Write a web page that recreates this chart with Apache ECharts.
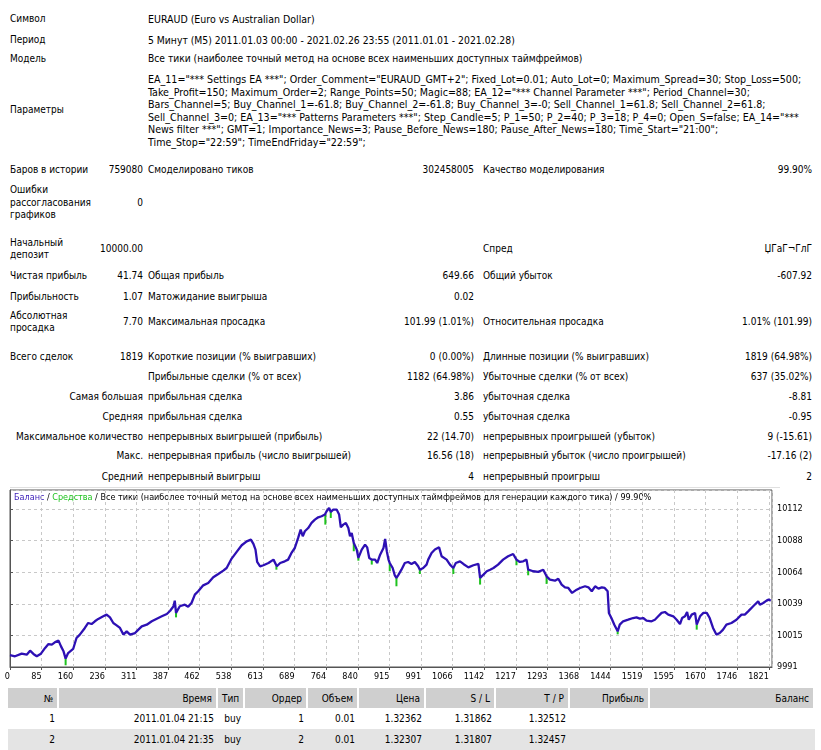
<!DOCTYPE html>
<html><head><meta charset="utf-8">
<script src="https://cdn.jsdelivr.net/npm/echarts@6/dist/echarts.min.js"></script>
<style>
body{margin:0;background:#fff;width:821px;height:750px;overflow:hidden;position:relative;font-family:"DejaVu Sans Condensed","DejaVu Sans",sans-serif;font-stretch:condensed;font-size:10px;color:#000}
.t{position:absolute;white-space:nowrap;line-height:12px;height:12px}
.cell{position:absolute;box-sizing:border-box;padding:0 4px;text-align:right;white-space:nowrap;line-height:21px;height:21px}
#chart{position:absolute;left:0;top:485px;width:821px;height:200px}
</style></head><body>
<div id="chart"></div>
<script>
// ---- chart data ----
const xTickLabels = ['0','85','160','236','311','387','462','538','613','689','764','840','915','991','1066','1142','1217','1293','1368','1444','1519','1595','1670','1746','1821'];
const balance = [
[0,10000],[12,9999.2],[28,10001.2],[40,10000.4],[48,10003.5],[56,10001.0],[64,9999.2],[68,10000.4],[74,10001.2],[84,10005.6],[92,10008.6],[100,10008.1],[108,10010.1],[116,10011.2],[122,10006.8],[128,10003.0],[133,9997.4],[139,10001.7],[151,10004.8],[159,10013.2],[167,10015.8],[179,10020.9],[187,10024.7],[195,10023.9],[203,10026.0],[211,10027.8],[223,10029.8],[231,10031.1],[239,10029.0],[247,10024.7],[255,10022.9],[263,10020.9],[271,10015.8],[279,10018.3],[287,10015.8],[299,10017.0],[307,10019.6],[315,10022.1],[327,10023.4],[339,10026.0],[351,10028.0],[363,10029.8],[375,10031.6],[383,10034.1],[391,10037.5],[394,10041.8],[397,10032.4],[406,10037.5],[418,10038.7],[426,10037.2],[434,10040.0],[442,10046.4],[450,10049.0],[462,10053.5],[474,10055.3],[486,10059.7],[498,10062.2],[510,10064.8],[518,10066.8],[530,10074.0],[542,10079.1],[554,10084.2],[566,10087.2],[576,10088.5],[582,10085.2],[587,10080.9],[591,10071.4],[598,10068.1],
[606,10068.9],[618,10070.6],[630,10073.2],[634,10074.0],[638,10068.1],[646,10070.6],[657,10071.9],[665,10073.2],[673,10078.3],[681,10082.1],[689,10089.8],[695,10096.2],[700,10091.1],[705,10094.9],[713,10097.4],[721,10101.3],[729,10103.8],[737,10105.6],[745,10106.4],[753,10107.7],[757,10110.2],[763,10112.8],[767,10109.7],[773,10111.5],[781,10111.5],[787,10107.7],[791,10098.0],[797,10100.0],[803,10101.3],[809,10097.4],[813,10091.1],[817,10093.6],[822,10086.0],[829,10080.9],[833,10074.5],[841,10080.9],[849,10084.7],[854,10082.6],[859,10074.5],[865,10073.2],[873,10073.2],[878,10070.6],[885,10077.0],[893,10082.1],[897,10089.0],[901,10079.6],[905,10073.2],[908,10070.6],[915,10066.8],[920,10061.2],[924,10059.2],[928,10061.2],[936,10065.5],[944,10070.6],[952,10071.4],[960,10069.9],[968,10071.4],[976,10068.1],[980,10065.5],[988,10066.8],[996,10069.4],[1000,10073.2],[1008,10078.3],[1016,10080.9],[1026,10082.6],[1032,10075.8],[1044,10073.2],[1052,10069.4],[1060,10066.8],[1066,10070.6],[1076,10071.9],[1084,10069.9],[1096,10067.3],[1108,10068.9],[1120,10069.9],[1124,10059.2],[1132,10061.7],[1140,10064.3],[1148,10065.5],[1156,10066.8],[1167,10069.4],[1179,10073.2],[1191,10075.8],[1203,10077.5],[1207,10078.3],[1211,10073.2],
[1219,10071.4],[1227,10071.9],[1235,10073.2],[1239,10065.5],[1251,10064.3],[1263,10063.8],[1275,10065.5],[1283,10060.4],[1291,10057.9],[1303,10057.1],[1311,10058.6],[1319,10054.1],[1327,10052.0],[1335,10051.5],[1344,10047.7],[1355,10050.2],[1363,10051.5],[1375,10052.8],[1383,10052.0],[1391,10049.0],[1399,10052.8],[1407,10051.0],[1415,10052.0],[1422,10051.5],[1429,10049.0],[1432,10032.4],[1438,10028.5],[1445,10023.4],[1453,10018.3],[1458,10023.4],[1466,10026.0],[1478,10027.2],[1490,10028.5],[1498,10029.0],[1506,10028.0],[1514,10028.5],[1522,10026.5],[1534,10026.0],[1542,10027.2],[1550,10029.8],[1558,10032.4],[1566,10033.1],[1574,10031.1],[1586,10029.8],[1594,10027.2],[1602,10023.9],[1607,10028.5],[1614,10029.8],[1619,10033.1],[1623,10027.2],[1630,10031.1],[1638,10032.4],[1642,10023.4],[1650,10029.8],[1658,10032.4],[1666,10032.4],[1673,10028.5],[1681,10020.9],[1689,10015.8],[1697,10017.0],[1705,10019.6],[1713,10023.4],[1725,10024.7],[1737,10027.2],[1749,10031.1],[1757,10031.1],[1765,10033.6],[1777,10037.5],[1789,10041.3],[1793,10038.7],[1801,10040.0],[1809,10041.8],[1814,10042.6],[1819,10041.7]
];
// equity dips: [trade, balance, equity low]
const equityDips = [[133,9997.4,9992.3],[397,10032.4,10029.0],[637,10068.1,10065.5],[754,10107.7,10100.0],[767,10109.7,10105.1],[822,10086.0,10079.6],[833,10074.5,10072.4],[865,10073.2,10069.4],[908,10070.6,10064.3],[924,10059.2,10052.8],[980,10065.5,10062.2],[1060,10066.8,10062.2],[1124,10059.2,10054.1],[1211,10073.2,10068.9],[1239,10065.5,10061.2],[1283,10060.4,10054.6],[1453,10018.3,10016.0],[1642,10023.4,10019.6]];
const yMin = 9991, yStep = 24.2, yMax = 10126.5;
const xStep = 75.6, xMax = 1822;

// ---- report text ----
const params = [
'EA_11="*** Settings EA ***"; Order_Comment="EURAUD_GMT+2"; Fixed_Lot=0.01; Auto_Lot=0; Maximum_Spread=30; Stop_Loss=500;',
'Take_Profit=150; Maximum_Order=2; Range_Points=50; Magic=88; EA_12="*** Channel Parameter ***"; Period_Channel=30;',
'Bars_Channel=5; Buy_Channel_1=-61.8; Buy_Channel_2=-61.8; Buy_Channel_3=-0; Sell_Channel_1=61.8; Sell_Channel_2=61.8;',
'Sell_Channel_3=0; EA_13="*** Patterns Parameters ***"; Step_Candle=5; P_1=50; P_2=40; P_3=18; P_4=0; Open_S=false; EA_14="***',
'News filter ***"; GMT=1; Importance_News=3; Pause_Before_News=180; Pause_After_News=180; Time_Start="21:00";',
'Time_Stop="22:59"; TimeEndFriday="22:59";'
];
// [x, y, text, align, fontSize]
const texts = [
[10,19,'Символ'],[148,19,'EURAUD (Euro vs Australian Dollar)',0,10.5],
[10,40,'Период'],[148,40,'5 Минут (M5) 2011.01.03 00:00 - 2021.02.26 23:55 (2011.01.01 - 2021.02.28)',0,10.3],
[10,59,'Модель'],[148,59,'Все тики (наиболее точный метод на основе всех наименьших доступных таймфреймов)',0,10.2],
[10,110,'Параметры'],
[10,170,'Баров в истории'],[143,170,'759080','r'],[148,170,'Смоделировано тиков'],[474,170,'302458005','r'],[483,170,'Качество моделирования'],[812,170,'99.90%','r'],
[10,190,'Ошибки'],[10,203,'рассогласования'],[10,215,'графиков'],[143,203,'0','r'],
[10,243,'Начальный'],[10,255,'депозит'],[143,249,'10000.00','r'],[483,249,'Спред'],[812,249,'ЏГаГ¬ГлГ','r'],
[10,276,'Чистая прибыль'],[143,276,'41.74','r'],[148,276,'Общая прибыль'],[474,276,'649.66','r'],[483,276,'Общий убыток'],[812,276,'-607.92','r'],
[10,297,'Прибыльность'],[143,297,'1.07','r'],[148,297,'Матожидание выигрыша'],[474,297,'0.02','r'],
[10,316,'Абсолютная'],[10,328,'просадка'],[143,322,'7.70','r'],[148,322,'Максимальная просадка'],[474,322,'101.99 (1.01%)','r'],[483,322,'Относительная просадка'],[812,322,'1.01% (101.99)','r'],
[10,357,'Всего сделок'],[143,357,'1819','r'],[148,357,'Короткие позиции (% выигравших)'],[474,357,'0 (0.00%)','r'],[483,357,'Длинные позиции (% выигравших)'],[812,357,'1819 (64.98%)','r'],
[148,377,'Прибыльные сделки (% от всех)'],[474,377,'1182 (64.98%)','r'],[483,377,'Убыточные сделки (% от всех)'],[812,377,'637 (35.02%)','r'],
[143,397,'Самая большая','r'],[148,397,'прибыльная сделка'],[474,397,'3.86','r'],[483,397,'убыточная сделка'],[812,397,'-8.81','r'],
[143,417,'Средняя','r'],[148,417,'прибыльная сделка'],[474,417,'0.55','r'],[483,417,'убыточная сделка'],[812,417,'-0.95','r'],
[143,437,'Максимальное количество','r'],[148,437,'непрерывных выигрышей (прибыль)'],[474,437,'22 (14.70)','r'],[483,437,'непрерывных проигрышей (убыток)'],[812,437,'9 (-15.61)','r'],
[143,456,'Макс.','r'],[148,456,'непрерывная прибыль (число выигрышей)'],[474,456,'16.56 (18)','r'],[483,456,'непрерывный убыток (число проигрышей)'],[812,456,'-17.16 (2)','r'],
[143,477,'Средний','r'],[148,477,'непрерывный выигрыш'],[474,477,'4','r'],[483,477,'непрерывный проигрыш'],[812,477,'2','r']
];
params.forEach((p,i)=>texts.push([148,79+i*12.6,p,0,10.6]));
texts.forEach(([x,y,s,a,fs])=>{
  const d=document.createElement('div');d.className='t';d.textContent=s;d.style.top=(y-6)+'px';
  if(fs)d.style.fontSize=fs+'px';
  if(a==='r')d.style.right=(821-x)+'px';else d.style.left=x+'px';
  document.body.appendChild(d);
});
const sep=document.createElement('div');sep.style.cssText='position:absolute;left:10px;top:487px;width:770px;height:1px;background:#e0e0e0';document.body.appendChild(sep);

// ---- deals table ----
const colEdges = [8,59,218,245,308,359,426,496,570,650,815];
const headers = ['№','Время','Тип','Ордер','Объем','Цена','S / L','T / P','Прибыль','Баланс'];
const rows = [
['1','2011.01.04 21:15','buy','1','0.01','1.32362','1.31862','1.32512','',''],
['2','2011.01.04 21:35','buy','2','0.01','1.32307','1.31807','1.32457','','']
];
const rowTops=[688,708,729], rowBg=['#cfcfcf','#ffffff','#e4e4e4'];
[headers,...rows].forEach((r,ri)=>{
  r.forEach((s,ci)=>{
    const d=document.createElement('div');d.className='cell';d.textContent=s;
    d.style.left=colEdges[ci]+'px';d.style.width=(colEdges[ci+1]-colEdges[ci]-(ri===0?2:0))+'px';
    d.style.top=rowTops[ri]+'px';d.style.background=rowBg[ri];
    document.body.appendChild(d);
  });
});

// ---- chart ----
const FF='"DejaVu Sans Condensed","DejaVu Sans",sans-serif';
const FS=9;
const chart=echarts.init(document.getElementById('chart'),null,{renderer:'canvas'});
chart.setOption({
  animation:false,
  grid:{left:10,right:49,top:5,bottom:18,show:true,borderColor:'#555',borderWidth:1,backgroundColor:'#fff'},
  graphic:[{type:'text',left:14,top:8,style:{text:'{b|Баланс} / {g|Средства} / Все тики (наиболее точный метод на основе всех наименьших доступных таймфреймов для генерации каждого тика) / 99.90%',fontFamily:FF,fontSize:FS,fill:'#000',rich:{b:{fill:'#3a1cb8',fontFamily:FF,fontSize:FS},g:{fill:'#1ec21e',fontFamily:FF,fontSize:FS}}}}],
  xAxis:{type:'value',min:0,max:xMax,interval:xStep,
    axisLine:{show:true,lineStyle:{color:'#555'}},
    axisTick:{show:true,length:3,lineStyle:{color:'#555'}},
    splitLine:{show:true,lineStyle:{color:'#c8c8c8',type:[3,3],width:1}},
    axisLabel:{showMaxLabel:false,showMinLabel:true,color:'#000',fontSize:FS,fontFamily:FF,margin:5,align:'right',
      formatter:v=>{const i=Math.round(v/xStep);return xTickLabels[i]!==undefined?xTickLabels[i]:'';}}},
  yAxis:{type:'value',position:'right',min:yMin,max:yMax,interval:yStep,
    axisLine:{show:true,lineStyle:{color:'#555'}},
    axisTick:{show:true,length:3,lineStyle:{color:'#555'}},
    splitLine:{show:true,lineStyle:{color:'#c8c8c8',type:[3,3],width:1}},
    axisLabel:{showMaxLabel:false,color:'#000',fontSize:FS,fontFamily:FF,margin:5,formatter:v=>String(Math.round(v))}},
  series:[
    {type:'custom',z:1,data:equityDips,renderItem:(p,api)=>{
      const a=api.coord([api.value(0),api.value(1)]),b=api.coord([api.value(0),api.value(2)]);
      return {type:'line',shape:{x1:a[0],y1:a[1],x2:b[0],y2:b[1]},style:{stroke:'#1ec21e',lineWidth:2}};
    },encode:{x:0,y:[1,2]}},
    {type:'line',z:2,data:balance,showSymbol:false,symbol:'none',lineStyle:{width:2.3,color:'#2d10b4'}}
  ]
});
</script>
</body></html>
